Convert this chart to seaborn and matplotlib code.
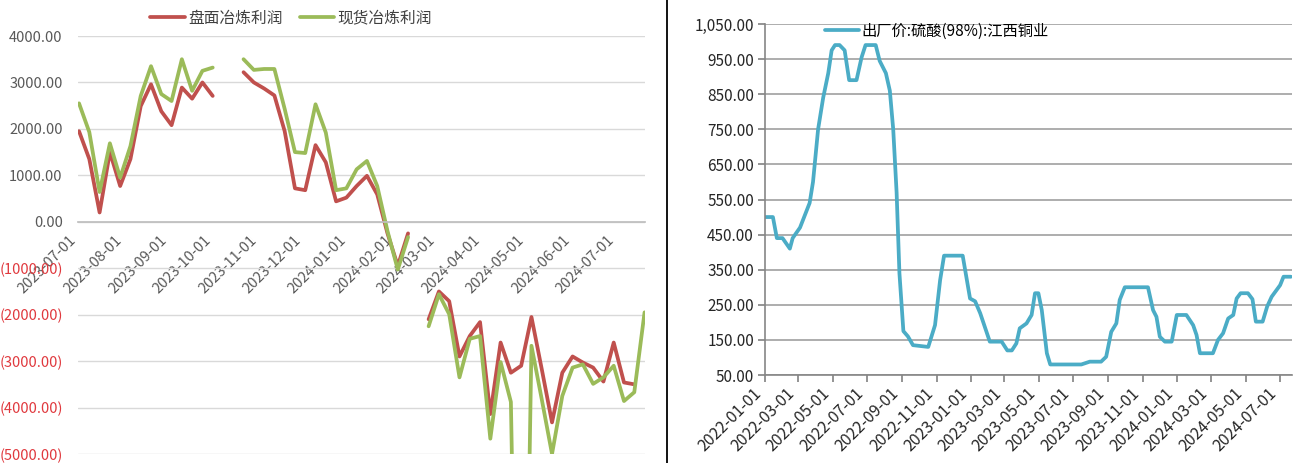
import matplotlib
matplotlib.use('Agg')
import matplotlib.pyplot as plt
import matplotlib.dates as mdates
from matplotlib.lines import Line2D
import seaborn as sns
import pandas as pd
import numpy as np

# ---- left panel: weekly smelting profit (yuan/t), from 2023-07-01 ----
week_start = '2023-07-01'
panel_profit = [1950, 1350, 200, 1500, 770, 1350, 2490, 2960, 2380, 2080,
                2890, 2650, 3000, 2710, np.nan, np.nan, 3220, 3000, 2870, 2720,
                1950, 720, 680, 1650, 1280, 440, 520, 770, 990, 590,
                -250, -950, -250, np.nan, -2100, -1500, -1710, -2900, -2460, -2160,
                -4140, -2600, -3250, -3100, -2050, -3170, -4320, -3250, -2900, -3030,
                -3140, -3440, -2600, -3460, -3500, np.nan]
spot_profit = [2550, 1930, 640, 1690, 950, 1630, 2710, 3350, 2750, 2600,
               3500, 2820, 3250, 3320, np.nan, np.nan, 3500, 3270, 3290, 3290,
               2430, 1500, 1480, 2530, 1920, 680, 720, 1130, 1310, 770,
               -200, -1030, -330, np.nan, -2250, -1560, -1990, -3350, -2520, -2460,
               -4670, -3020, -3880, -16000, -2670, -3820, -5000, -3750, -3140, -3070,
               -3490, -3350, -3100, -3860, -3670, -1950]
left_names = ['盘面冶炼利润', '现货冶炼利润']

# ---- right panel: sulphuric acid ex-works price ----
acid_dates = ['2022-01-01', '2022-01-15', '2022-01-22', '2022-02-01', '2022-02-14',
              '2022-02-19', '2022-03-04', '2022-03-21', '2022-03-27', '2022-04-05',
              '2022-04-14', '2022-04-23', '2022-04-29', '2022-05-05', '2022-05-13',
              '2022-05-22', '2022-05-30', '2022-06-12', '2022-06-21', '2022-06-28',
              '2022-07-16', '2022-07-23', '2022-08-03', '2022-08-10', '2022-08-16',
              '2022-08-22', '2022-08-27', '2022-09-03', '2022-09-11', '2022-09-20',
              '2022-10-17', '2022-10-29', '2022-11-07', '2022-11-14', '2022-12-17',
              '2022-12-30', '2023-01-08', '2023-01-17', '2023-02-03', '2023-02-24',
              '2023-03-06', '2023-03-14', '2023-03-22', '2023-03-28', '2023-04-09',
              '2023-04-18', '2023-04-24', '2023-04-30', '2023-05-06', '2023-05-15',
              '2023-05-21', '2023-07-15', '2023-07-30', '2023-08-19', '2023-08-28',
              '2023-09-06', '2023-09-15', '2023-09-21', '2023-09-30', '2023-11-10',
              '2023-11-19', '2023-11-25', '2023-12-01', '2023-12-10', '2023-12-22',
              '2023-12-31', '2024-01-17', '2024-01-29', '2024-02-04', '2024-02-10',
              '2024-03-04', '2024-03-13', '2024-03-22', '2024-03-31', '2024-04-09',
              '2024-04-15', '2024-04-22', '2024-05-05', '2024-05-13', '2024-05-19',
              '2024-05-31', '2024-06-08', '2024-06-16', '2024-07-01', '2024-07-07',
              '2024-07-20']
acid_price = [500, 500, 440, 440, 410, 440, 470, 540, 600, 750,
              840, 910, 975, 990, 990, 975, 890, 890, 955, 990,
              990, 945, 910, 860, 750, 570, 340, 175, 160, 135,
              130, 192, 320, 390, 390, 268, 260, 226, 145, 145,
              120, 120, 140, 183, 197, 221, 283, 283, 235, 112,
              80, 80, 88, 88, 102, 173, 197, 264, 300, 300,
              235, 216, 159, 145, 145, 221, 221, 192, 164, 112,
              112, 150, 169, 211, 221, 268, 283, 283, 266, 202,
              202, 245, 273, 306, 330, 330]
acid_name = '出厂价:硫酸(98%):江西铜业'

sns.set_theme(style='white')
plt.rcParams['font.family'] = ['Noto Sans CJK SC', 'DejaVu Sans']
plt.rcParams['axes.unicode_minus'] = False

weeks = pd.date_range(week_start, periods=len(panel_profit), freq='7D')
frames = []
for name, vals in zip(left_names, [panel_profit, spot_profit]):
    s = pd.Series(vals, dtype=float)
    frames.append(pd.DataFrame({'date': weeks, 'value': s, 'series': name,
                                'seg': s.isna().cumsum()}).dropna())
left_df = pd.concat(frames, ignore_index=True)
acid_df = pd.DataFrame({'date': pd.to_datetime(acid_dates), 'price': acid_price})

W, H = 1293, 463
fig = plt.figure(figsize=(W / 100, H / 100), dpi=100)
ax1 = fig.add_axes([78 / W, 1 - 454 / H, (645 - 78) / W, (454 - 36) / H])
ax2 = fig.add_axes([765 / W, 1 - 375 / H, (1292 - 765) / W, (375 - 24) / H])

left_colors = {'盘面冶炼利润': '#C0504D', '现货冶炼利润': '#9BBB59'}
sns.lineplot(data=left_df, x='date', y='value', hue='series', units='seg',
             estimator=None, palette=left_colors, lw=2.7, ax=ax1, legend=False)

ax1.set_ylim(-5000, 4000)
yt = list(range(-5000, 4001, 1000))
ax1.set_yticks(yt, [f'{v:.2f}' if v >= 0 else f'({-v:.2f})' for v in yt])
for lbl, v in zip(ax1.get_yticklabels(), yt):
    lbl.set_color('#595959' if v >= 0 else '#E0393E')
ax1.tick_params(axis='y', length=0, pad=11, labelsize=10.5)
ax1.yaxis.grid(True, color='#D9D9D9', lw=1)
ax1.set_axisbelow(True)
for sp in ['top', 'right', 'left']:
    ax1.spines[sp].set_visible(False)
ax1.spines['bottom'].set_position(('data', 0))
ax1.spines['bottom'].set_color('#BFBFBF')
ax1.xaxis.set_major_locator(mdates.MonthLocator())
ax1.xaxis.set_major_formatter(mdates.DateFormatter('%Y-%m-%d'))
ax1.tick_params(axis='x', direction='out', length=5, color='#BFBFBF',
                labelsize=10.5, labelcolor='#595959', rotation=45, pad=3)
for lbl in ax1.get_xticklabels():
    lbl.set_ha('right')
ax1.set_xlim(weeks[0] - pd.Timedelta(days=0.7), weeks[-1] + pd.Timedelta(days=0.3))
ax1.set_xlabel('')
ax1.set_ylabel('')
handles = [Line2D([], [], color=left_colors[n], lw=2.7) for n in left_names]
ax1.legend(handles, left_names, loc='center', bbox_to_anchor=(0.376, 1.043),
           ncol=2, frameon=False, fontsize=11.3, handlelength=2.2,
           handletextpad=0.2, columnspacing=1.1, borderpad=0, borderaxespad=0,
           labelcolor='#404040')

sns.lineplot(data=acid_df, x='date', y='price', color='#4BACC6', lw=2.7,
             ax=ax2, label=acid_name)
ax2.set_ylim(50, 1050)
yt2 = list(range(50, 1051, 100))
ax2.set_yticks(yt2, [f'{v:,.2f}' for v in yt2])
ax2.tick_params(axis='y', direction='out', length=5, color='#868686',
                labelsize=11, labelcolor='#262626', pad=3, left=True)
ax2.yaxis.grid(True, color='#A0A0A0', lw=1.2)
ax2.set_axisbelow(True)
for sp in ['top', 'right']:
    ax2.spines[sp].set_visible(False)
for sp in ['left', 'bottom']:
    ax2.spines[sp].set_color('#868686')
    ax2.spines[sp].set_linewidth(1.2)
ax2.xaxis.set_major_locator(mdates.MonthLocator(bymonth=[1, 3, 5, 7, 9, 11]))
ax2.xaxis.set_major_formatter(mdates.DateFormatter('%Y-%m-%d'))
ax2.tick_params(axis='x', direction='out', length=5, color='#868686',
                labelsize=11.5, labelcolor='#262626', rotation=45, pad=2, bottom=True)
for lbl in ax2.get_xticklabels():
    lbl.set_ha('right')
ax2.set_xlim(pd.Timestamp('2022-01-01'), pd.Timestamp('2024-07-22'))
ax2.set_xlabel('')
ax2.set_ylabel('')
ax2.legend(loc='center left', bbox_to_anchor=(60 / 527, (375 - 31) / 351),
           frameon=False, fontsize=11, handlelength=2.2, handletextpad=0.2,
           borderpad=0, borderaxespad=0, labelcolor='#000000')

fig.add_artist(Line2D([667 / W, 667 / W], [0, 1], transform=fig.transFigure,
                      color='black', lw=1.3))

fig.savefig('out.png', dpi=100)
